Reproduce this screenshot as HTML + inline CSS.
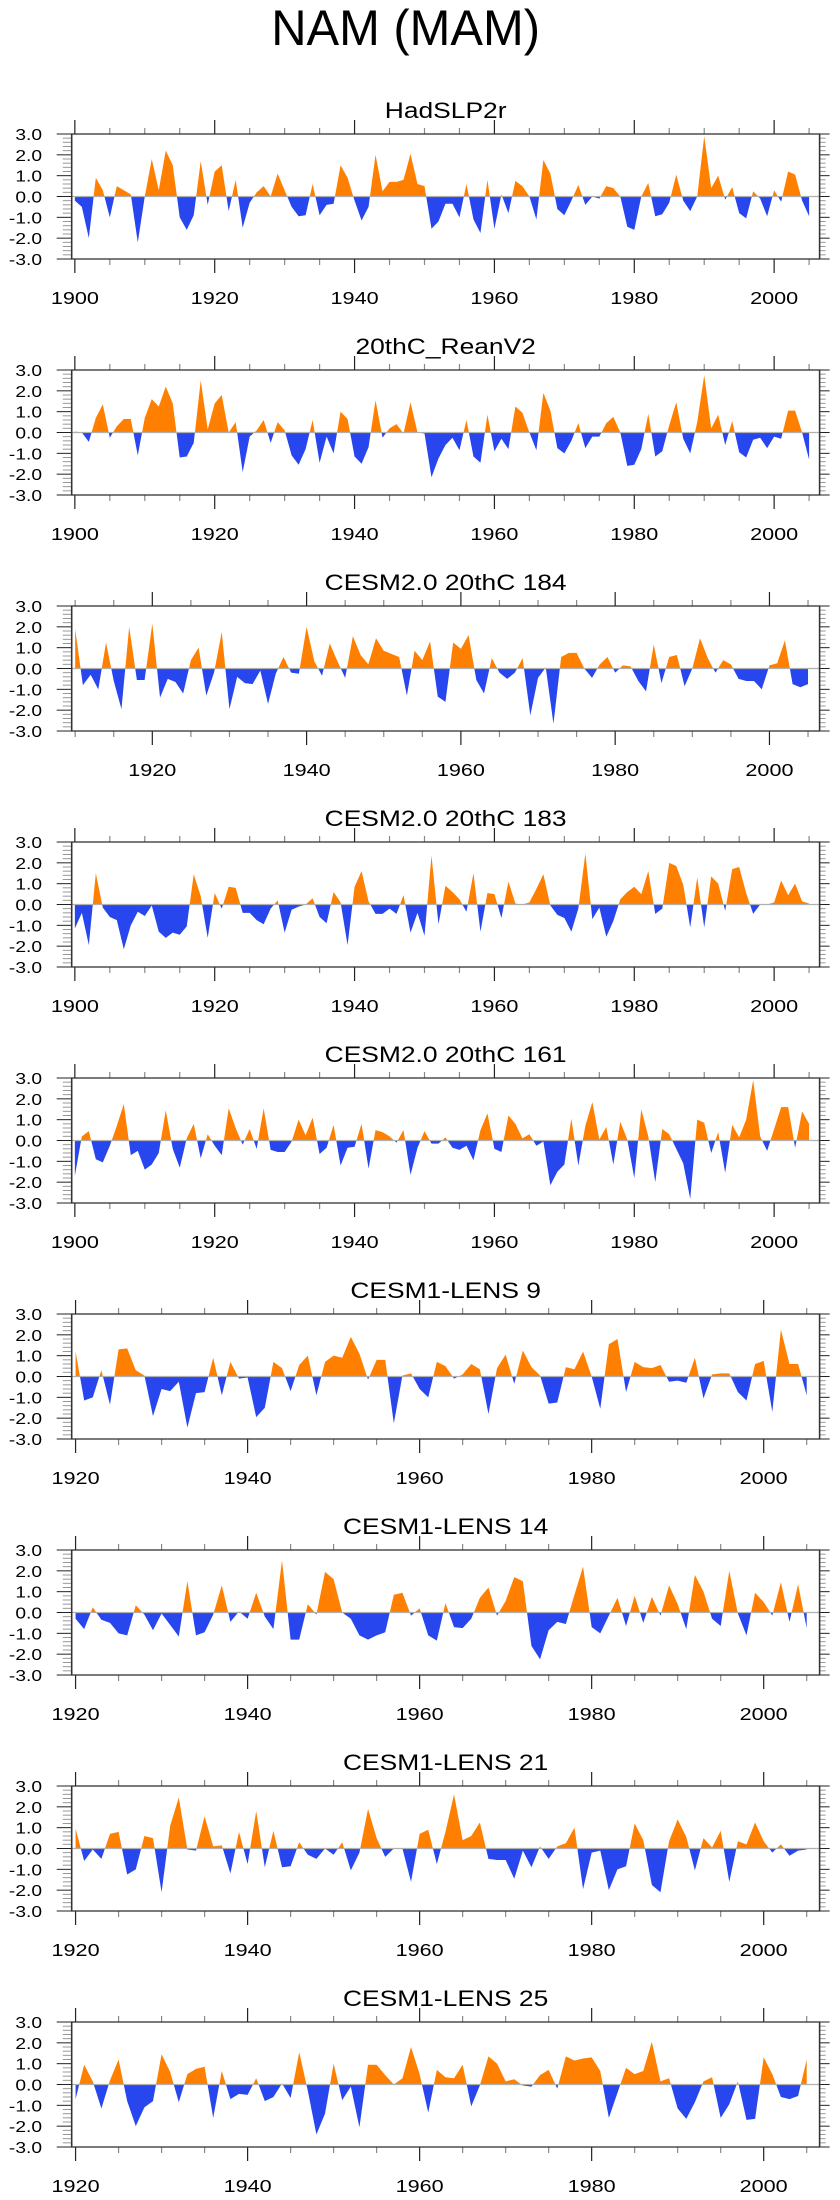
<!DOCTYPE html>
<html><head><meta charset="utf-8"><style>
html,body{margin:0;padding:0;background:#fff;}
svg{display:block;}
text{font-family:"Liberation Sans",Arial,sans-serif;fill:#000;}
</style></head>
<body>
<svg id="chart" width="840" height="2200" viewBox="0 0 700 2200" preserveAspectRatio="none" xmlns="http://www.w3.org/2000/svg">
<text x="338" y="45" font-size="50" text-anchor="middle" textLength="224" lengthAdjust="spacingAndGlyphs">NAM (MAM)</text>
</svg>
<script>
const panelTitles=["HadSLP2r","20thC_ReanV2","CESM2.0 20thC 184","CESM2.0 20thC 183","CESM2.0 20thC 161","CESM1-LENS 9","CESM1-LENS 14","CESM1-LENS 21","CESM1-LENS 25"];
const startYears=[1900,1900,1910,1900,1900,1920,1920,1920,1920];
const yTickLabels=["3.0","2.0","1.0","0.0","-1.0","-2.0","-3.0"];
const yTickValues=[3,2,1,0,-1,-2,-3];
const s1=[-0.2,-0.5,-2.0,0.9,0.3,-1.0,0.5,0.3,0.1,-2.2,0.0,1.8,0.3,2.2,1.5,-1.0,-1.6,-0.9,1.7,-0.4,1.2,1.5,-0.7,0.8,-1.5,-0.3,0.2,0.5,0.0,1.1,0.3,-0.5,-0.95,-0.9,0.6,-0.9,-0.4,-0.35,1.5,0.9,-0.2,-1.15,-0.5,2.0,0.25,0.7,0.7,0.8,2.05,0.6,0.5,-1.55,-1.2,-0.35,-0.35,-1.0,0.6,-1.1,-1.75,0.8,-1.55,0.1,-0.8,0.75,0.5,0.0,-1.1,1.75,1.1,-0.6,-0.9,-0.2,0.55,-0.4,0.0,-0.1,0.5,0.4,0.0,-1.45,-1.6,0.0,0.65,-0.95,-0.85,-0.3,1.05,-0.2,-0.7,0.0,2.9,0.4,1.0,-0.15,0.45,-0.8,-1.05,0.25,-0.1,-0.95,0.3,-0.25,1.2,1.05,-0.2,-0.95];
const s2=[0.05,0.0,-0.45,0.7,1.35,-0.25,0.3,0.65,0.65,-1.1,0.7,1.6,1.25,2.2,1.4,-1.2,-1.15,-0.5,2.5,0.15,1.4,1.8,0.0,0.5,-1.9,-0.2,0.1,0.6,-0.5,0.5,0.1,-1.1,-1.55,-0.8,0.6,-1.45,-0.2,-1.0,1.0,0.65,-1.15,-1.5,-0.7,1.55,-0.25,0.2,0.4,-0.05,1.45,0.0,-0.05,-2.15,-1.25,-0.6,-0.25,-0.85,0.6,-1.15,-1.45,0.85,-0.9,-0.3,-0.8,1.25,0.95,0.0,-0.85,1.9,1.05,-0.75,-1.0,-0.4,0.45,-0.75,-0.2,-0.2,0.45,0.75,0.0,-1.6,-1.55,-0.8,0.9,-1.15,-0.9,0.35,1.45,-0.3,-1.0,0.5,2.75,0.2,0.85,-0.6,0.55,-0.95,-1.2,-0.35,-0.25,-0.75,-0.2,-0.3,1.05,1.05,0.0,-1.3];
const s3=[1.9,-0.8,-0.3,-1.0,1.25,-0.6,-1.95,2.0,-0.55,-0.55,2.15,-1.4,-0.5,-0.65,-1.2,0.4,1.0,-1.3,-0.2,1.75,-1.95,-0.4,-0.7,-0.75,-0.1,-1.7,-0.25,0.55,-0.2,-0.25,2.0,0.35,-0.35,1.2,0.35,-0.45,1.55,0.65,0.2,1.45,0.85,0.7,0.55,-1.3,0.85,0.4,1.3,-1.35,-1.6,1.25,0.95,1.6,-0.55,-1.2,0.5,-0.2,-0.5,-0.2,0.5,-2.25,-0.45,0.05,-2.65,0.55,0.75,0.75,0.0,-0.45,0.2,0.55,-0.2,0.15,0.1,-0.6,-1.1,1.15,-0.7,0.55,0.65,-0.85,0.0,1.45,0.5,-0.2,0.4,0.2,-0.5,-0.6,-0.6,-1.0,0.15,0.25,1.35,-0.75,-0.9,-0.75];
const s4=[-1.15,-0.4,-1.95,1.5,-0.15,-0.6,-0.75,-2.15,-1.0,-0.35,-0.55,-0.05,-1.3,-1.6,-1.35,-1.45,-1.05,1.45,0.4,-1.6,0.55,-0.2,0.85,0.8,-0.4,-0.4,-0.75,-0.95,-0.2,0.2,-1.35,-0.25,-0.1,0.0,0.3,-0.6,-0.9,0.6,0.1,-1.95,0.85,1.6,0.15,-0.45,-0.45,-0.2,-0.45,0.45,-1.35,-0.4,-1.5,2.35,-0.95,0.9,0.6,0.25,-0.35,1.5,-1.3,0.55,0.5,-0.65,1.1,0.05,0.0,0.1,0.75,1.45,-0.05,-0.5,-0.65,-1.3,-0.2,2.45,-0.7,-0.15,-1.55,-0.8,0.25,0.6,0.85,0.5,1.6,-0.45,-0.2,2.0,1.85,0.95,-1.1,1.3,-1.1,1.35,1.0,-0.3,1.7,1.8,0.55,-0.45,0.0,0.0,0.1,1.15,0.45,1.0,0.15,0.05];
const s5=[-1.7,0.2,0.45,-0.9,-1.05,-0.25,0.7,1.75,-0.7,-0.5,-1.4,-1.15,-0.6,1.45,-0.4,-1.3,0.1,0.8,-0.85,0.3,-0.25,-0.7,1.55,0.6,-0.2,0.55,-0.4,1.55,-0.45,-0.55,-0.55,-0.05,1.0,0.25,1.1,-0.65,-0.35,0.75,-1.2,-0.35,-0.3,0.8,-1.35,0.5,0.4,0.2,-0.1,0.5,-1.65,-0.35,0.45,-0.15,-0.15,0.15,-0.35,-0.45,-0.25,-0.95,0.5,1.3,-0.4,-0.55,1.2,0.8,0.1,0.3,-0.25,-0.05,-2.15,-1.5,-1.15,1.05,-1.2,0.7,1.85,0.05,0.65,-1.15,0.9,0.05,-1.8,1.5,0.2,-2.0,0.55,0.3,-0.4,-1.1,-2.8,1.0,0.85,-0.6,0.4,-1.55,0.75,0.15,1.0,2.9,0.2,-0.5,0.55,1.6,1.6,-0.35,1.4,0.8];
const s6=[1.2,-1.15,-1.0,0.3,-1.35,1.3,1.35,0.3,0.05,-1.9,-0.6,-0.7,-0.25,-2.45,-0.8,-0.75,0.9,-0.9,0.7,-0.1,-0.05,-1.95,-1.5,0.7,0.4,-0.7,0.55,1.0,-0.9,0.7,1.0,0.9,1.9,1.1,-0.15,0.8,0.8,-2.25,0.05,0.15,-0.6,-1.0,0.7,0.5,-0.1,0.1,0.6,0.35,-1.8,0.4,1.05,-0.35,1.25,0.45,0.05,-1.3,-1.25,0.45,0.35,1.2,0.0,-1.55,1.55,1.8,-0.75,0.7,0.45,0.4,0.55,-0.25,-0.2,-0.3,0.9,-1.05,0.1,0.15,0.15,-0.75,-1.15,0.6,0.75,-1.7,2.25,0.6,0.6,-0.9];
const s7=[-0.3,-0.8,0.25,-0.35,-0.5,-1.0,-1.1,0.35,-0.1,-0.85,-0.05,-0.6,-1.15,1.5,-1.1,-0.95,-0.1,1.3,-0.45,0.05,-0.3,0.95,-0.2,-0.8,2.5,-1.3,-1.3,0.4,-0.1,1.95,1.6,0.0,-0.3,-1.1,-1.3,-1.1,-0.95,0.85,0.95,-0.15,0.2,-1.1,-1.35,0.45,-0.7,-0.75,-0.3,0.7,1.2,-0.15,0.55,1.7,1.5,-1.6,-2.25,-0.85,-0.45,-0.55,0.85,2.2,-0.7,-1.0,-0.15,0.7,-0.65,0.8,-0.5,0.75,-0.15,1.3,0.4,-0.8,1.8,1.0,-0.3,-0.65,2.0,-0.05,-1.1,0.95,0.5,-0.15,1.45,-0.45,1.35,-0.75];
const s8=[0.95,-0.6,-0.05,-0.5,0.7,0.8,-1.25,-1.0,0.6,0.5,-2.1,1.1,2.45,-0.05,-0.1,1.55,0.1,0.15,-1.2,0.8,-0.75,1.8,-0.9,0.85,-0.9,-0.85,0.3,-0.3,-0.5,0.0,-0.3,0.3,-1.05,-0.2,1.9,0.5,-0.4,0.0,0.0,-1.6,0.7,0.9,-0.75,0.8,2.6,0.4,0.6,1.25,-0.5,-0.55,-0.55,-1.45,-0.1,-0.9,0.1,-0.5,0.1,0.25,1.0,-1.95,-0.2,-0.1,-2.0,-1.0,-0.85,1.2,0.4,-1.75,-2.1,0.35,1.4,0.55,-1.05,0.5,0.05,0.85,-1.6,0.35,0.2,1.25,0.35,-0.2,0.2,-0.35,-0.1,-0.05];
const s9=[-0.7,0.95,0.15,-1.15,0.2,1.2,-0.8,-2.0,-1.1,-0.8,1.45,0.6,-0.85,0.5,0.75,0.85,-1.6,0.65,-0.7,-0.45,-0.5,0.3,-0.8,-0.6,0.05,-0.65,1.55,-0.3,-2.4,-1.4,1.0,-0.75,-0.1,-2.05,0.95,0.95,0.45,0.0,0.3,1.8,0.5,-1.35,0.7,0.35,0.3,0.95,-1.05,-0.05,1.35,1.0,0.15,0.25,-0.05,-0.1,0.45,0.7,-0.2,1.35,1.15,1.25,1.3,0.65,-1.6,-0.4,0.8,0.5,0.65,2.05,0.15,0.3,-1.15,-1.65,-0.85,0.15,0.35,-1.6,-0.95,0.15,-1.7,-1.65,1.3,0.5,-0.6,-0.7,-0.55,1.2];
const seriesList=[s1,s2,s3,s4,s5,s6,s7,s8,s9];

const NS="http://www.w3.org/2000/svg";
const svg=document.getElementById("chart");
const XL=59.75, XR=683, H=125, TOP0=134, GAP=236, XMAX=2006.5, SX=1.2;
function mk(tag,attrs,parent){const e=document.createElementNS(NS,tag);for(const k in attrs)e.setAttribute(k,attrs[k]);(parent||svg).appendChild(e);return e;}

seriesList.forEach((vals,p)=>{
  const top=TOP0+GAP*p, bot=top+H;
  const start=startYears[p], xmin=start-0.45;
  const xs=y=>XL+(y-xmin)/(XMAX-xmin)*(XR-XL);
  const ys=v=>top+(3-v)/6*H;
  const g=mk("g",{});
  
  
  const t=mk("text",{x:(XL+XR)/2,y:top-16,"font-size":22,"text-anchor":"middle"},g);
  
  
  t.textContent=panelTitles[p];
  const cu=mk("clipPath",{id:"cu"+p},g); mk("rect",{x:XL,y:top,width:XR-XL,height:ys(0)-top},cu);
  const cd=mk("clipPath",{id:"cd"+p},g); mk("rect",{x:XL,y:ys(0),width:XR-XL,height:bot-ys(0)},cd);
  let pts=xs(start).toFixed(2)+","+ys(0).toFixed(2)+" ";
  vals.forEach((v,i)=>{pts+=xs(start+i).toFixed(2)+","+ys(v).toFixed(2)+" ";});
  pts+=xs(start+vals.length-1).toFixed(2)+","+ys(0).toFixed(2);
  const pu=mk("polygon",{points:pts,fill:"#ff8000","clip-path":"url(#cu"+p+")"},g);
  
  
  const pd=mk("polygon",{points:pts,fill:"#2846ee","clip-path":"url(#cd"+p+")"},g);
  
  
  const zl=mk("line",{x1:XL,x2:XR,y1:ys(0),y2:ys(0),stroke:"#b0b0b0","stroke-width":1.2},g);
  
  
  for(let k=0;k<=30;k++){
    const v=-3+k*0.2, y=ys(v), major=(k%5===0);
    mk("line",{x1:XL-(major?15:9)/SX,x2:XL,y1:y,y2:y,stroke:major?"#222":"#999","stroke-width":1},g);
    mk("line",{x1:XR,x2:XR+(major?10:6)/SX,y1:y,y2:y,stroke:major?"#222":"#999","stroke-width":1},g);
  }
  yTickValues.forEach((v,i)=>{
    const tl=mk("text",{x:35,y:ys(v)+6,"font-size":16,"text-anchor":"end"},g);
    
    
    tl.textContent=yTickLabels[i];
  });
  const firstLab=Math.ceil(start/20)*20;
  for(let yr=Math.ceil(xmin/5)*5; yr<=XMAX; yr+=5){
    const x=xs(yr), major=((yr-firstLab)%20===0);
    mk("line",{x1:x,x2:x,y1:bot,y2:bot+(major?14:6),stroke:major?"#222":"#888","stroke-width":1},g);
    mk("line",{x1:x,x2:x,y1:top,y2:top-(major?14:6),stroke:major?"#222":"#888","stroke-width":1},g);
    if(major){
      const xl=mk("text",{x:x,y:bot+45,"font-size":18,"text-anchor":"middle"},g);
      
      
      xl.textContent=yr;
    }
  }
  const fr=mk("rect",{x:XL,y:top,width:XR-XL,height:H,fill:"none",stroke:"#333","stroke-width":1.3},g);
  
  
});
</script>
</body></html>
